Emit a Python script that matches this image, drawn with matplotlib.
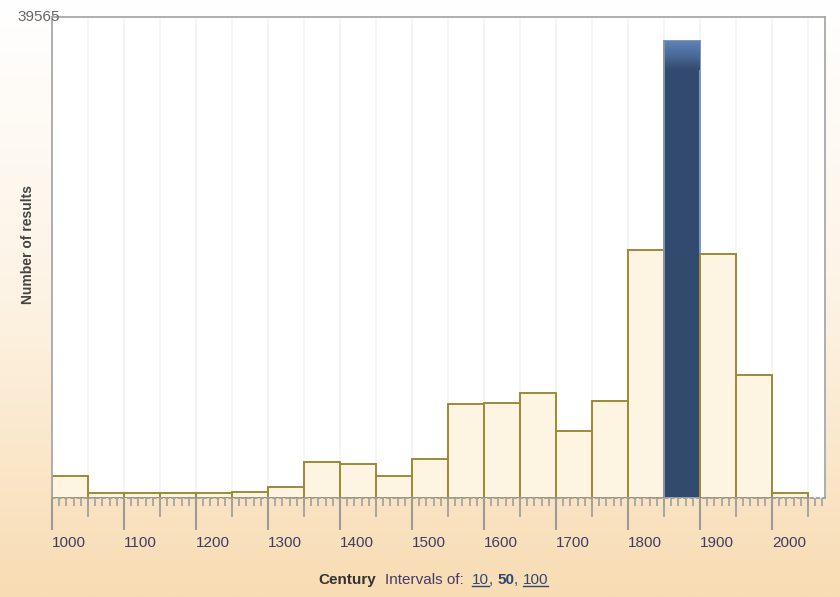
import numpy as np
import matplotlib
matplotlib.use("Agg")
import matplotlib.pyplot as plt
from matplotlib.colors import LinearSegmentedColormap
from matplotlib.lines import Line2D
from matplotlib.ticker import MultipleLocator, FixedLocator

plt.rcParams['font.family'] = ['Liberation Sans', 'DejaVu Sans']

# ---- data ----
bin_starts = [1000, 1050, 1100, 1150, 1200, 1250, 1300, 1350, 1400, 1450, 1500,
              1550, 1600, 1650, 1700, 1750, 1800, 1850, 1900, 1950, 2000]
counts = [1795, 370, 370, 370, 370, 478, 889, 2898, 2783, 1795, 3145,
          7674, 7781, 8629, 5451, 7971, 20354, 37613, 20025, 10087, 346]
bin_width = 50
highlight_start = 1850
y_max = 39565
tick_labels = ['1000', '1100', '1200', '1300', '1400', '1500', '1600', '1700',
               '1800', '1900', '2000']
x_max = 2073.6

W, H = 840, 597
fig = plt.figure(figsize=(W / 100, H / 100), dpi=100)

# background gradient
bg = fig.add_axes([0, 0, 1, 1], zorder=-10)
bg_cmap = LinearSegmentedColormap.from_list('bg', ['#FFFFFF', '#FDF3E4', '#F8DCB3'])
grad = np.linspace(0, 1, 256).reshape(-1, 1)
bg.imshow(grad, aspect='auto', cmap=bg_cmap, extent=[0, 1, 0, 1], origin='upper')
bg.set_axis_off()

left, right, top, bottom = 52, 825, 17, 497.5
ax = fig.add_axes([left / W, 1 - bottom / H, (right - left) / W, (bottom - top) / H])
ax.set_facecolor('white')

# faint vertical grid at bin edges
edges = list(bin_starts) + [bin_starts[-1] + bin_width]
ax.vlines(edges[1:], 0, y_max, colors='#F5F5F5', lw=1.4, zorder=0)

colors = ['#324A6D' if s == highlight_start else '#FEF4E2' for s in bin_starts]
edgecols = ['#8296B3' if s == highlight_start else '#9C8A36' for s in bin_starts]
ax.bar(bin_starts, counts, width=bin_width, align='edge', color=colors,
       edgecolor=edgecols, linewidth=1.4, zorder=2)

# gradient on top of highlighted bar
hi = bin_starts.index(highlight_start)
hv = counts[hi]
gfrac = y_max * 0.06
gcmap = LinearSegmentedColormap.from_list('hb', ['#5E82B2', '#4A6A98', '#324A6D'])
ax.imshow(np.linspace(0, 1, 64).reshape(-1, 1), cmap=gcmap, aspect='auto',
          extent=[highlight_start + 0.8, highlight_start + bin_width - 0.8, hv - gfrac, hv],
          origin='upper', zorder=3)
ax.set_xlim(bin_starts[0], x_max)
ax.set_ylim(0, y_max)

# spines
for s in ['left', 'top', 'right']:
    ax.spines[s].set_color('#A8A8A8')
    ax.spines[s].set_linewidth(1.3)
ax.spines['bottom'].set_color('#A0A0A0')
ax.spines['bottom'].set_linestyle((0, (1.5, 2)))
ax.spines['bottom'].set_linewidth(1.3)

# ruler ticks
major_pos = [int(t) for t in tick_labels]
ax.xaxis.set_major_locator(FixedLocator(major_pos))
ax.xaxis.set_minor_locator(MultipleLocator(10))
ax.set_xticklabels(tick_labels)
ax.tick_params(axis='x', which='major', length=23, width=1.5, color='#9A9A9A',
               pad=5, labelsize=11, labelcolor='#433A66')
ax.tick_params(axis='x', which='minor', length=6, width=1.2, color='#A0A0A0')
for lab in ax.get_xticklabels():
    lab.set_ha('left')
ax.set_yticks([])

sec = ax.secondary_xaxis('bottom')
sec.xaxis.set_major_locator(MultipleLocator(50))
sec.tick_params(axis='x', which='major', length=14, width=1.3, color='#A0A0A0', labelbottom=False)
sec.xaxis.set_minor_locator(FixedLocator([]))
sec.spines['bottom'].set_visible(False)

# top label & y label
fig.text(left / W + 0.01, 1 - top / H, f'{y_max}', ha='right', va='center',
         fontsize=11, color='#666666')
fig.text(28 / W, 1 - 245 / H, 'Number of results', rotation=90, ha='center',
         va='center', fontsize=10, fontweight='bold', color='#444444')

# bottom caption
fig.canvas.draw()
renderer = fig.canvas.get_renderer()
yc = 1 - 580 / H
x = 318
parts = [('Century', 'bold', '#333333', False, 9),
         ('Intervals of: ', 'normal', '#45396A', False, 4),
         ('10', 'normal', '#2E4A73', True, 0),
         (', ', 'normal', '#2E4A73', False, 0),
         ('50', 'bold', '#2E4A73', False, 0),
         (', ', 'normal', '#2E4A73', False, 0),
         ('100', 'normal', '#2E4A73', True, 0)]
for txt, wt, col, ul, gap in parts:
    t = fig.text(x / W, yc, txt, ha='left', va='center', fontsize=11,
                 fontweight=wt, color=col)
    bb = t.get_window_extent(renderer)
    if ul:
        yl = (bb.y0 + 1) / H
        fig.add_artist(Line2D([bb.x0 / W, bb.x1 / W], [yl, yl], color=col, lw=1.0))
    x = x + bb.width + gap

fig.savefig('out.png', dpi=100)
